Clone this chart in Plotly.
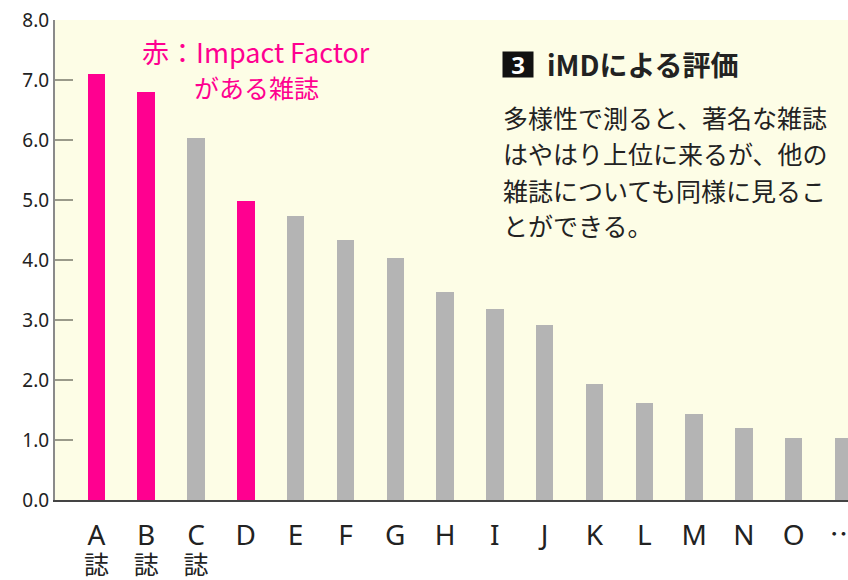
import plotly.graph_objects as go

# ---- data ----
categories = ["A", "B", "C", "D", "E", "F", "G", "H", "I", "J", "K", "L", "M", "N", "O", "…"]
values = [7.1, 6.8, 6.04, 4.98, 4.74, 4.33, 4.04, 3.47, 3.18, 2.91, 1.93, 1.62, 1.43, 1.2, 1.04, 1.04]
has_impact_factor = [True, True, False, True] + [False] * 12
journal_suffix = ["誌", "誌", "誌"] + [""] * 13
y_ticks = [0, 1, 2, 3, 4, 5, 6, 7, 8]
legend_lines = ["赤：Impact Factor", "がある雑誌"]
box_number = "3"
panel_title = "iMDによる評価"
body_lines = ["多様性で測ると、著名な雑誌", "はやはり上位に来るが、他の", "雑誌についても同様に見るこ", "とができる。"]

PINK = "#ff0090"
GRAY = "#b4b4b4"
CJK = "Noto Sans CJK JP, Noto Sans, sans-serif"
LAT = "Noto Sans, Noto Sans CJK JP, sans-serif"

x_idx = list(range(len(categories)))
colors = [PINK if f else GRAY for f in has_impact_factor]

def tick_label(cat, suffix):
    if cat == "…":
        head = "<span style='font-size:28px;font-family:Noto Sans CJK JP'>" + cat + "</span>"
    else:
        head = "<span style='font-size:28px'>" + cat + "</span>"
    tail = "<br><span style='font-size:25px;font-family:Noto Sans CJK JP'>" + suffix + "</span>" if suffix else ""
    return head + tail

tick_text = [tick_label(c, s) for c, s in zip(categories, journal_suffix)]

fig = go.Figure(go.Bar(x=x_idx, y=values, marker=dict(color=colors, line=dict(width=0)),
                       width=0.35, hoverinfo="skip"))

L, T, B = 55, 20, 80
W, H = 848, 580
pw, ph = W - L, H - T - B

def px(xp):
    return (xp - L) / pw

def py(yp):
    return (H - B - yp) / ph

ann = []
# pink legend text
ann.append(dict(x=px(256), y=py(52), xref="paper", yref="paper", text=legend_lines[0], showarrow=False,
                font=dict(family=CJK, size=27, color=PINK), xanchor="center", yanchor="middle"))
ann.append(dict(x=px(256), y=py(87), xref="paper", yref="paper", text=legend_lines[1], showarrow=False,
                font=dict(family=CJK, size=25, color=PINK), xanchor="center", yanchor="middle"))
# numbered box
ann.append(dict(x=px(518), y=py(64.5), xref="paper", yref="paper", text="<b>" + box_number + "</b>", showarrow=False,
                font=dict(family=LAT, size=24, color="white"), bgcolor="#111", width=28, height=23,
                borderpad=1, xanchor="center", yanchor="middle"))
# title
ann.append(dict(x=px(545), y=py(64), xref="paper", yref="paper", text="<b>" + panel_title + "</b>", showarrow=False,
                font=dict(family=CJK, size=28, color="#222"), xanchor="left", yanchor="middle"))
# body
for line, yc in zip(body_lines, [117, 153, 190, 225]):
    ann.append(dict(x=px(501), y=py(yc), xref="paper", yref="paper", text=line, showarrow=False,
                    font=dict(family=CJK, size=25, color="#222"), xanchor="left", yanchor="middle"))

fig.update_layout(
    width=W, height=H,
    margin=dict(l=L, r=0, t=T, b=B, pad=0),
    paper_bgcolor="white",
    plot_bgcolor="#fdfde6",
    showlegend=False,
    bargap=0,
    annotations=ann,
    xaxis=dict(
        range=[-0.831, 15.09],
        tickvals=x_idx, ticktext=tick_text,
        showline=True, linecolor="#444", linewidth=2,
        ticks="", showgrid=False, zeroline=False,
        tickfont=dict(family=LAT, size=22, color="#222"),
        ticklabelstandoff=17,
        ticklabeloverflow="allow",
        automargin=False,
        fixedrange=True,
    ),
    yaxis=dict(
        range=[0, 8],
        tickvals=y_ticks, tickformat=".1f",
        showline=True, linecolor="#8a8a8a", linewidth=2,
        ticks="inside", ticklen=18, tickcolor="#9a9a8a", tickwidth=2,
        showgrid=False, zeroline=False,
        tickfont=dict(family=LAT, size=19, color="#222"),
        automargin=False,
        fixedrange=True,
    ),
)

fig.write_html(
    "out.html",
    config={"displayModeBar": False, "staticPlot": True},
    post_script="document.body.style.margin='0';document.documentElement.style.overflow='hidden';",
)
